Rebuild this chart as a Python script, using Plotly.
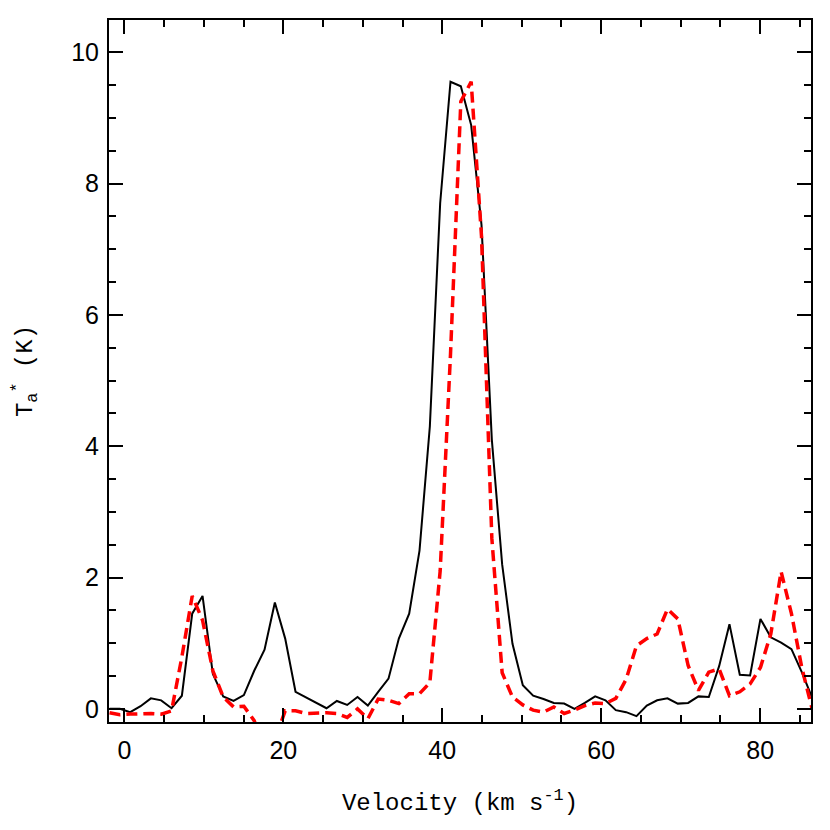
import plotly.graph_objects as go

# channel velocities (km/s)
velocity = [-1.86, -0.56, 0.74, 2.04, 3.34, 4.64, 5.94, 7.24, 8.54, 9.84,
            11.14, 12.44, 13.74, 15.04, 16.34, 17.64, 18.94, 20.24, 21.54, 22.84,
            24.14, 25.44, 26.74, 28.04, 29.34, 30.64, 31.94, 33.24, 34.54, 35.84,
            37.14, 38.44, 39.74, 41.04, 42.34, 43.64, 44.94, 46.24, 47.54, 48.84,
            50.14, 51.44, 52.74, 54.04, 55.34, 56.64, 57.94, 59.24, 60.54, 61.84,
            63.14, 64.44, 65.74, 67.04, 68.34, 69.64, 70.94, 72.24, 73.54, 74.84,
            76.14, 77.44, 78.74, 80.04, 81.34, 82.64, 83.94, 85.24, 86.54]

# solid black spectrum
ta_black = [0.0, 0.0, -0.05, 0.04, 0.16, 0.13, 0.01, 0.2, 1.45, 1.72,
            0.53, 0.19, 0.12, 0.21, 0.58, 0.9, 1.62, 1.07, 0.26, 0.18,
            0.1, 0.01, 0.12, 0.06, 0.18, 0.05, 0.26, 0.46, 1.07, 1.45,
            2.41, 4.3, 7.7, 9.55, 9.48, 8.89, 7.37, 4.1, 2.2, 0.99,
            0.36, 0.2, 0.15, 0.09, 0.08, 0.0, 0.09, 0.19, 0.13, -0.02,
            -0.05, -0.11, 0.05, 0.13, 0.16, 0.08, 0.09, 0.19, 0.18, 0.65,
            1.29, 0.52, 0.51, 1.37, 1.09, 1.01, 0.91, 0.56, 0.17]

# dashed red spectrum
ta_red = [-0.06, -0.09, -0.08, -0.07, -0.07, -0.08, -0.03, 0.79, 1.72, 1.35,
          0.58, 0.18, 0.03, 0.04, -0.18, -0.6, -0.47, -0.03, -0.03, -0.07,
          -0.06, -0.06, -0.07, -0.13, 0.0, -0.15, 0.15, 0.13, 0.08, 0.23,
          0.23, 0.4, 2.1, 5.4, 9.25, 9.55, 7.2, 2.6, 0.55, 0.18,
          0.06, -0.02, -0.05, 0.03, -0.07, -0.02, 0.05, 0.09, 0.08, 0.16,
          0.45, 0.96, 1.07, 1.14, 1.52, 1.37, 0.66, 0.28, 0.56, 0.61,
          0.2, 0.26, 0.38, 0.63, 1.14, 2.09, 1.45, 0.63, 0.0]

x_ticks = [0, 20, 40, 60, 80]
y_ticks = [0, 2, 4, 6, 8, 10]

fig = go.Figure()
fig.add_trace(go.Scatter(
    x=velocity, y=ta_black, mode="lines",
    line=dict(color="black", width=2),
    showlegend=False,
))
fig.add_trace(go.Scatter(
    x=velocity, y=ta_red, mode="lines",
    line=dict(color="#ff0000", width=3.5, dash="11px,6px"),
    showlegend=False,
))

axis_common = dict(
    showline=True, linecolor="black", linewidth=2, mirror="allticks",
    ticks="inside", ticklen=14, tickwidth=2, tickcolor="black",
    showgrid=False, zeroline=False,
    tickfont=dict(family="Liberation Sans", size=25, color="black"),
)
title_font = dict(family="Liberation Mono", size=24, color="black")

fig.update_xaxes(
    range=[-1.93, 86.4], tickvals=x_ticks, ticklabelstandoff=5,
    minor=dict(ticks="inside", ticklen=7, tickwidth=2, tickcolor="black", dtick=5, tick0=0),
    title=dict(text="Velocity (km s<sup>-1</sup>)", standoff=30, font=title_font),
    **axis_common,
)
fig.update_yaxes(
    range=[-0.2, 10.49], tickvals=y_ticks, ticklabelstandoff=3,
    minor=dict(ticks="inside", ticklen=7, tickwidth=2, tickcolor="black", dtick=0.5, tick0=0),
    title=dict(text="T<sub>a</sub><sup>*</sup> (K)", standoff=36, font=title_font),
    **axis_common,
)

fig.update_layout(
    width=830, height=830,
    margin=dict(l=99, r=27, t=10, b=116),
    paper_bgcolor="white", plot_bgcolor="white",
)

fig.write_html("out.html")
